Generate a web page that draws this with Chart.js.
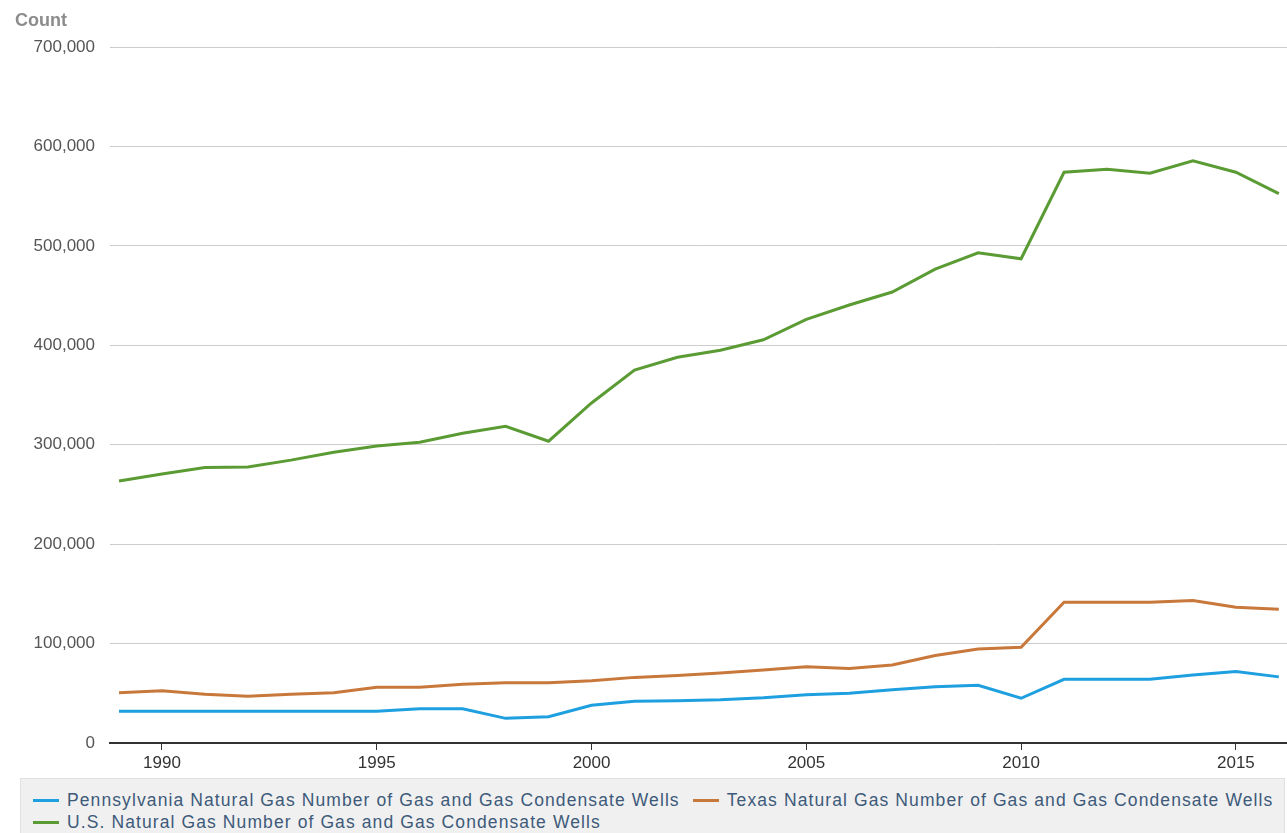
<!DOCTYPE html>
<html>
<head>
<meta charset="utf-8">
<script src="https://cdn.jsdelivr.net/npm/chart.js@4/dist/chart.umd.min.js"></script>
<style>
html, body { margin: 0; padding: 0; background: #fff; width: 1287px; height: 833px; overflow: hidden; font-family: "Liberation Sans", Arial, sans-serif; }
#wrap { position: relative; width: 1287px; height: 778px; }
#legend { position: absolute; left: 20px; top: 778px; width: 1265px; height: 60px; background: #f0f0f0; border: 1px solid #e0e0e0; box-sizing: border-box; padding: 10px 0 0 12px; }
.row { display: flex; flex-wrap: nowrap; height: 22px; }
.item { display: inline-flex; align-items: center; height: 22px; margin-right: 13px; color: #3d5a7a; font-size: 17.5px; letter-spacing: 1.1px; white-space: nowrap; }
.swatch { width: 26px; height: 3px; margin-right: 8px; }
</style>
</head>
<body>
<div id="wrap"><canvas id="wellsChart"></canvas></div>
<div id="legend"></div>
<script>
// Data
const years = [1989, 1990, 1991, 1992, 1993, 1994, 1995, 1996, 1997, 1998, 1999, 2000, 2001, 2002,
               2003, 2004, 2005, 2006, 2007, 2008, 2009, 2010, 2011, 2012, 2013, 2014, 2015, 2016];
const pennWells = [32000, 32000, 32000, 32000, 32000, 32000, 32000, 34500, 34500, 24800, 26500, 38000, 42000, 42500,
                   43500, 45500, 48500, 50000, 53500, 56500, 58000, 45000, 64000, 64000, 64000, 68500, 72000, 66500];
const texasWells = [50500, 52500, 49000, 47000, 49000, 50500, 56000, 56000, 59000, 60500, 60500, 62500, 66000, 68000,
                    70500, 73500, 76700, 75000, 78400, 88000, 94600, 96300, 141500, 141500, 141500, 143200, 136500, 134500];
const usWells = [263500, 270500, 277000, 277500, 284500, 292500, 298700, 302500, 311500, 318500, 303500, 342000, 375000, 388000,
                 395000, 405500, 426000, 440500, 453600, 476500, 493000, 487000, 574000, 577000, 573000, 585500, 574000, 552500];
const seriesNames = [
    'Pennsylvania Natural Gas Number of Gas and Gas Condensate Wells',
    'Texas Natural Gas Number of Gas and Gas Condensate Wells',
    'U.S. Natural Gas Number of Gas and Gas Condensate Wells'
];
const seriesColors = ['#1ea0e0', '#c8783a', '#5b9b34'];
const legendRows = [[0, 1], [2]];
const yTicks = [0, 100000, 200000, 300000, 400000, 500000, 600000, 700000];
const xTicks = [1990, 1995, 2000, 2005, 2010, 2015];

function toPoints(values) {
    return years.map(function(yr, i) { return { x: yr, y: values[i] }; });
}

const allSeries = [pennWells, texasWells, usWells];

// Judul sumbu "Count" di pojok kiri atas
const countLabel = {
    id: 'countLabel',
    afterDraw: function(chart) {
        const ctx = chart.ctx;
        ctx.save();
        ctx.font = "bold 18px 'Liberation Sans', Arial, sans-serif";
        ctx.fillStyle = '#8c8c8c';
        ctx.textAlign = 'left';
        ctx.textBaseline = 'alphabetic';
        ctx.fillText('Count', 15, 26);
        ctx.restore();
    }
};

new Chart(document.getElementById('wellsChart'), {
    type: 'line',
    data: {
        datasets: allSeries.map(function(vals, i) {
            return {
                label: seriesNames[i],
                data: toPoints(vals),
                borderColor: seriesColors[i],
                backgroundColor: seriesColors[i],
                borderWidth: 3,
                pointRadius: 0,
                tension: 0,
                fill: false
            };
        })
    },
    options: {
        responsive: true,
        maintainAspectRatio: false,
        animation: false,
        layout: { padding: { top: 47, right: 0, bottom: 0, left: 0 } },
        plugins: {
            legend: { display: false },
            tooltip: { enabled: false }
        },
        scales: {
            x: {
                type: 'linear',
                min: 1988.79,
                max: 2016.19,
                afterBuildTicks: function(scale) {
                    scale.ticks = xTicks.map(function(v) { return { value: v }; });
                },
                afterFit: function(scale) { scale.height = 35; },
                grid: {
                    drawOnChartArea: false,
                    drawTicks: true,
                    tickLength: 7,
                    color: '#333',
                    lineWidth: 1
                },
                border: { display: true, color: '#333', width: 2 },
                ticks: {
                    autoSkip: false,
                    maxRotation: 0,
                    padding: 3,
                    color: '#333',
                    font: { size: 17, family: "'Liberation Sans', Arial, sans-serif" },
                    callback: function(v) { return String(v); }
                }
            },
            y: {
                min: 0,
                max: 700000,
                afterBuildTicks: function(scale) {
                    scale.ticks = yTicks.map(function(v) { return { value: v }; });
                },
                afterFit: function(scale) { scale.width = 110; },
                grid: { color: '#cccccc', lineWidth: 1, drawTicks: false },
                border: { display: false },
                ticks: {
                    padding: 15,
                    color: '#555',
                    font: { size: 17, family: "'Liberation Sans', Arial, sans-serif" },
                    callback: function(v) { return v.toLocaleString('en-US'); }
                }
            }
        }
    },
    plugins: [countLabel]
});

// Legenda HTML
const legendEl = document.getElementById('legend');
legendRows.forEach(function(row) {
    const rowEl = document.createElement('div');
    rowEl.className = 'row';
    row.forEach(function(i) {
        const item = document.createElement('span');
        item.className = 'item';
        const sw = document.createElement('span');
        sw.className = 'swatch';
        sw.style.background = seriesColors[i];
        item.appendChild(sw);
        item.appendChild(document.createTextNode(seriesNames[i]));
        rowEl.appendChild(item);
    });
    legendEl.appendChild(rowEl);
});
</script>
</body>
</html>
